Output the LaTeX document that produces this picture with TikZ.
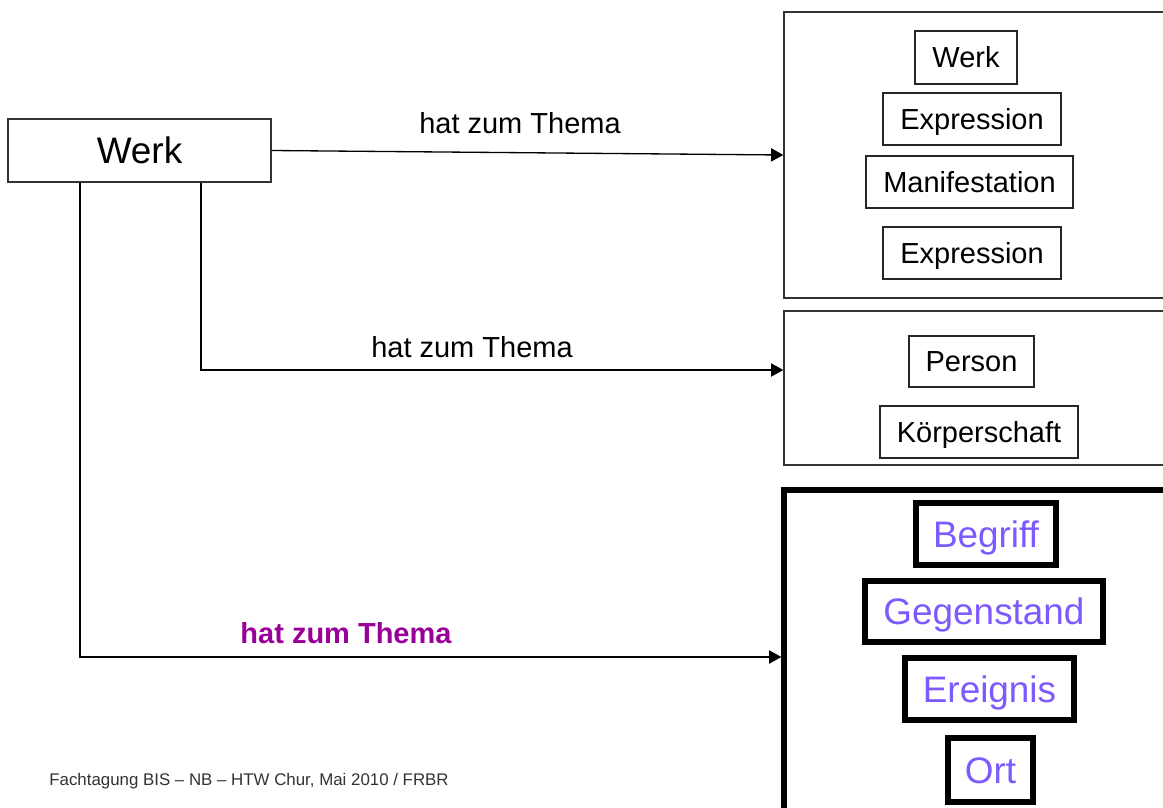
\documentclass[tikz,border=0pt]{standalone}
\usepackage{fontspec}
\setmainfont{Liberation Sans}
\usetikzlibrary{positioning,arrows.meta,calc}
\definecolor{themaPurple}{RGB}{153,0,153}
\definecolor{entLila}{RGB}{125,90,255}
\tikzset{
  frame/.style={draw=black!80, line width=0.8pt, inner sep=0pt},
  frameBold/.style={draw=black, line width=3pt, inner sep=0pt},
  ent/.style={draw=black!85, line width=0.8pt, inner sep=0pt,
              text height=11.8pt, text depth=0pt,
              font=\fontsize{16.5}{18}\selectfont},
  entBold/.style={draw=black, line width=3.4pt, inner sep=0pt, text=entLila,
                  text height=15pt, text depth=0pt,
                  font=\fontsize{21}{24}\selectfont},
  rel/.style={draw=black, line width=0.75pt,
              -{Triangle[length=7pt,width=7.5pt]}},
  rellab/.style={font=\fontsize{16.5}{18}\selectfont, inner sep=0pt},
}
\newcommand{\relText}{hat zum Thema}

\begin{document}
\begin{tikzpicture}[x=0.02cm, y=-0.02cm]
  \clip (0,0) rectangle (1163,808);
  \fill[white] (0,0) rectangle (1163,808);
  % main entity
  \node[frame, minimum width=5.26cm, minimum height=1.26cm,
        text height=15pt, text depth=0pt,
        font=\fontsize{21}{24}\selectfont] (werk) at (139.5,150.5) {Werk};
  % group 1
  \node[frame, minimum width=8.32cm, minimum height=5.72cm] (grp1) at (992,155) {};
  \node[ent, minimum width=2.04cm, minimum height=1.06cm] (g1w) at (966,57.5) {Werk};
  \node[ent, minimum width=3.56cm, minimum height=1.04cm] (g1e) at (972,119) {Expression};
  \node[ent, minimum width=4.14cm, minimum height=1.04cm] (g1m) at (969.5,182) {Manifestation};
  \node[ent, minimum width=3.56cm, minimum height=1.04cm] (g1x) at (972,253) {Expression};
  % group 2
  \node[frame, minimum width=8.32cm, minimum height=3.08cm] (grp2) at (992,388) {};
  \node[ent, minimum width=2.5cm, minimum height=1.02cm] (g2p) at (971.5,361.5) {Person};
  \node[ent, minimum width=3.96cm, minimum height=1.04cm] (g2k) at (979,432) {Körperschaft};
  % group 3
  \node[frameBold, minimum width=8.32cm, minimum height=7.2cm] (grp3) at (992,670) {};
  \node[entBold, minimum width=2.8cm, minimum height=1.24cm] (g3b) at (986,534) {Begriff};
  \node[entBold, minimum width=4.76cm, minimum height=1.22cm] (g3g) at (984,611.5) {Gegenstand};
  \node[entBold, minimum width=3.38cm, minimum height=1.24cm] (g3e) at (989.5,689) {Ereignis};
  \node[entBold, minimum width=1.7cm, minimum height=1.28cm] (g3o) at (990.5,770) {Ort};
  % relations
  \draw[rel] (werk.east) -- (grp1.west);
  \draw[rel] (werk.south -| 201,0) |- (grp2.west |- 0,370);
  \draw[rel] (werk.south -| 80,0) |- (grp3.west |- 0,657);
  \node[rellab] (lab1) at (520,123) {\relText};
  \node[rellab] (lab2) at (472,347) {\relText};
  \node[rellab, text=themaPurple, font=\fontsize{16.5}{18}\selectfont\bfseries]
    (lab3) at (346,633) {\relText};
  % footer
  \node[text=black!80, font=\fontsize{9.6}{11}\selectfont, inner sep=0pt]
    (foot) at (249,781) {Fachtagung BIS – NB – HTW Chur, Mai 2010 / FRBR};
\end{tikzpicture}
\end{document}
